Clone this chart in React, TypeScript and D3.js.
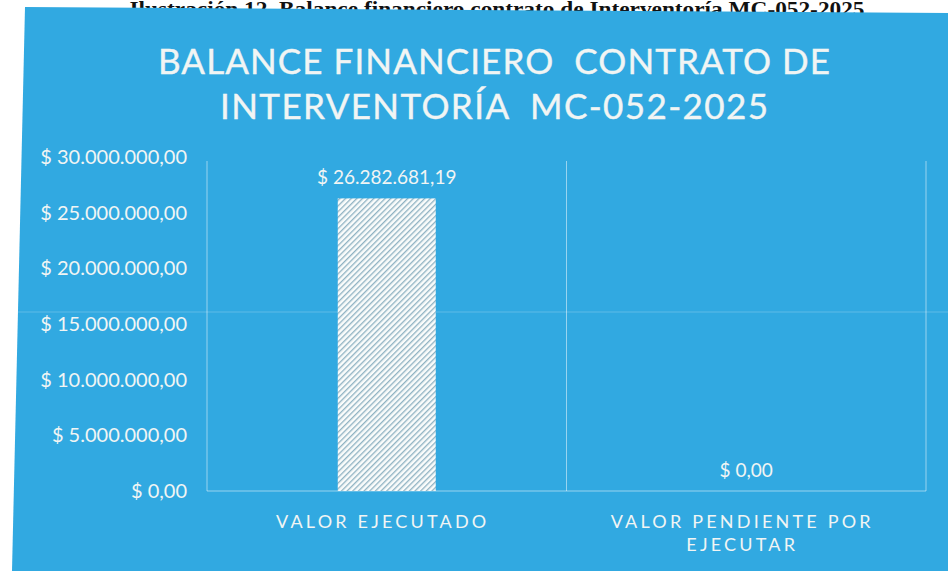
import { useRef, useEffect } from 'react';
import * as d3 from 'd3';

const CAPTION = 'Ilustración 12. Balance financiero contrato de Interventoría MC-052-2025';
const TITLE_LINES = ['BALANCE FINANCIERO  CONTRATO DE', 'INTERVENTORÍA  MC-052-2025'];
const CATEGORIES = ['VALOR EJECUTADO', 'VALOR PENDIENTE POR EJECUTAR'];
const CATEGORY_LINES = [['VALOR EJECUTADO'], ['VALOR PENDIENTE POR', 'EJECUTAR']];
const VALUES = [26282681.19, 0];
const Y_TICKS = [0, 5000000, 10000000, 15000000, 20000000, 25000000, 30000000];

const WIDTH = 948;
const HEIGHT = 571;
const BG = '#31A9E1';
const TEXT = '#F1F5F4';
const GRID = 'rgba(255,255,255,0.5)';
const STRIPE = '#84ABBD';

const locale = d3.formatLocale({
  decimal: ',',
  thousands: '.',
  grouping: [3],
  currency: ['$ ', ''],
});
const money = (v: number) => '$ ' + locale.format(',.2f')(v);

export default function App() {
  const svgRef = useRef<SVGSVGElement>(null);

  useEffect(() => {
    document.body.style.margin = '0';
    const svg = d3.select(svgRef.current);
    svg.selectAll('*').remove();

    const plot = { left: 207, right: 926, top: 157, bottom: 491 };

    const x = d3.scaleBand<string>()
      .domain(CATEGORIES)
      .range([plot.left, plot.right])
      .padding(0);
    const y = d3.scaleLinear()
      .domain([0, 30000000])
      .range([plot.bottom, plot.top]);

    // hatch pattern for bars (wide upward diagonal)
    const defs = svg.append('defs');
    const pat = defs.append('pattern')
      .attr('id', 'hatch')
      .attr('patternUnits', 'userSpaceOnUse')
      .attr('width', 4).attr('height', 4)
      .attr('patternTransform', 'rotate(45)');
    pat.append('rect').attr('width', 4).attr('height', 4).attr('fill', '#FAFCFB');
    pat.append('line')
      .attr('x1', 0.7).attr('x2', 0.7).attr('y1', 0).attr('y2', 4)
      .attr('stroke', STRIPE).attr('stroke-width', 1.2);

    // caption above the chart (cut off by the chart area in the scan)
    svg.append('text')
      .attr('x', 497).attr('y', 16)
      .attr('text-anchor', 'middle')
      .attr('font-family', '"Liberation Serif", "Times New Roman", serif')
      .attr('font-weight', 'bold')
      .attr('font-size', 21)
      .attr('textLength', 735)
      .attr('lengthAdjust', 'spacingAndGlyphs')
      .attr('fill', '#111')
      .text(CAPTION);

    // chart area
    svg.append('polygon')
      .attr('points', `25,7 ${WIDTH},13 ${WIDTH},${HEIGHT} 12,${HEIGHT}`)
      .attr('fill', BG);

    // faint scan streak
    svg.append('line')
      .attr('x1', 12).attr('x2', WIDTH)
      .attr('y1', 312).attr('y2', 312)
      .attr('stroke', 'rgba(255,255,255,0.15)').attr('stroke-width', 1.5);

    // title
    const titleWidths = [672, 548];
    const titleBaselines = [74, 119];
    TITLE_LINES.forEach((t, i) => {
      svg.append('text')
        .attr('x', 494).attr('y', titleBaselines[i])
        .attr('text-anchor', 'middle')
        .attr('font-family', 'Lato, "Open Sans", sans-serif')
        .attr('font-size', 35)
        .attr('textLength', titleWidths[i])
        .attr('lengthAdjust', 'spacing')
        .style('white-space', 'pre')
        .attr('fill', TEXT)
        .attr('stroke', TEXT).attr('stroke-width', 0.4)
        .text(t);
    });

    // vertical gridlines at category boundaries
    const bounds = [...CATEGORIES.map((c) => x(c) as number), plot.right];
    for (const bx of bounds) {
      svg.append('line')
        .attr('x1', bx).attr('x2', bx)
        .attr('y1', plot.top + 4).attr('y2', plot.bottom)
        .attr('stroke', GRID).attr('stroke-width', 1);
    }
    // category axis line
    svg.append('line')
      .attr('x1', plot.left).attr('x2', plot.right)
      .attr('y1', plot.bottom).attr('y2', plot.bottom)
      .attr('stroke', GRID).attr('stroke-width', 1);

    // y tick labels
    for (const t of Y_TICKS) {
      svg.append('text')
        .attr('x', 187).attr('y', y(t))
        .attr('dy', '0.35em')
        .attr('text-anchor', 'end')
        .attr('font-family', 'Lato, "Open Sans", sans-serif')
        .attr('font-size', 20)
        .attr('fill', TEXT)
        .text(money(t));
    }

    // bars + value labels
    const barW = 98;
    CATEGORIES.forEach((c, i) => {
      const cx = (x(c) as number) + x.bandwidth() / 2;
      const v = VALUES[i];
      if (v > 0) {
        svg.append('rect')
          .attr('x', cx - barW / 2).attr('y', y(v))
          .attr('width', barW).attr('height', y(0) - y(v))
          .attr('fill', 'url(#hatch)');
      }
      svg.append('text')
        .attr('x', cx).attr('y', y(v) - 14)
        .attr('text-anchor', 'middle')
        .attr('font-family', 'Lato, "Open Sans", sans-serif')
        .attr('font-size', 19)
        .attr('fill', TEXT)
        .text(money(v));

      // category labels
      CATEGORY_LINES[i].forEach((line, j) => {
        svg.append('text')
          .attr('x', cx - 4).attr('y', 528 + j * 23)
          .attr('text-anchor', 'middle')
          .attr('font-family', 'Lato, "Open Sans", sans-serif')
          .attr('font-size', 18)
          .attr('letter-spacing', 3.2)
          .attr('fill', TEXT)
          .text(line);
      });
    });
  }, []);

  return <svg ref={svgRef} width={WIDTH} height={HEIGHT} style={{ display: 'block', background: '#fff' }} />;
}
